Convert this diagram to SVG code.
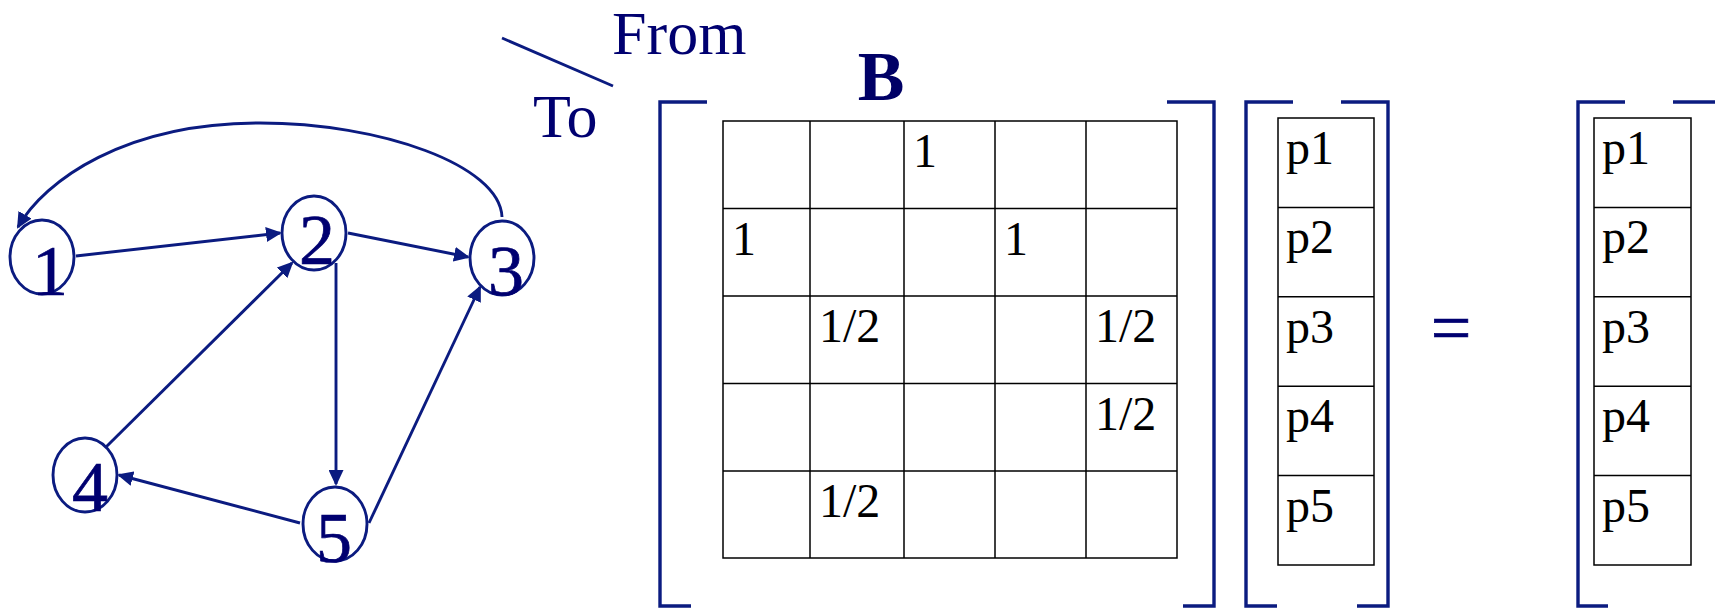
<svg xmlns="http://www.w3.org/2000/svg" width="1715" height="608" viewBox="0 0 1715 608">
<style>
.node{fill:none;stroke:#0b1b80;stroke-width:2.9}
.lbl{font-family:"Liberation Serif","Times New Roman",serif;font-size:72px;fill:#000070;stroke:#000070;stroke-width:0.7;text-anchor:middle}
.edge{fill:none;stroke:#0b1b80;stroke-width:2.9}
.brk{fill:none;stroke:#0b1b80;stroke-width:3.4}
.grid{fill:none;stroke:#000;stroke-width:1.5}
.cell{font-family:"Liberation Serif","Times New Roman",serif;font-size:48px;fill:#000}
.hdr{font-family:"Liberation Serif","Times New Roman",serif;font-size:62px;fill:#000070}
</style>
<defs>
<marker id="arr" markerUnits="userSpaceOnUse" markerWidth="16" markerHeight="15" refX="14" refY="7.5" orient="auto">
<path d="M0,0 L16,7.5 L0,15 z" fill="#0b1b80"/>
</marker>
</defs>
<rect width="1715" height="608" fill="#fff"/>

<g id="connectors">
<line class="edge" x1="76" y1="256" x2="280" y2="233" marker-end="url(#arr)"/>
<line class="edge" x1="348" y1="233" x2="468" y2="257" marker-end="url(#arr)"/>
<line class="edge" x1="336" y1="263" x2="336" y2="484" marker-end="url(#arr)"/>
<line class="edge" x1="106" y1="447" x2="292" y2="263" marker-end="url(#arr)"/>
<line class="edge" x1="300" y1="523" x2="119" y2="475" marker-end="url(#arr)"/>
<line class="edge" x1="369" y1="523" x2="480" y2="287" marker-end="url(#arr)"/>
<path class="edge" d="M502,217 C500,165 380,123 260,123 C125,123 45,180 18,227" marker-end="url(#arr)"/>
</g>

<g id="node1"><ellipse class="node" cx="42" cy="257" rx="32" ry="37"/><text class="lbl" x="50" y="295">1</text></g>
<g id="node2"><ellipse class="node" cx="314" cy="233" rx="32" ry="37"/><text class="lbl" x="317" y="264">2</text></g>
<g id="node3"><ellipse class="node" cx="502" cy="258" rx="32" ry="37"/><text class="lbl" x="506" y="295">3</text></g>
<g id="node4"><ellipse class="node" cx="85" cy="475" rx="32" ry="37"/><text class="lbl" x="90" y="511">4</text></g>
<g id="node5"><ellipse class="node" cx="335" cy="524" rx="32" ry="37"/><text class="lbl" x="334" y="562">5</text></g>

<g id="header">
<line class="edge" x1="502" y1="38" x2="613" y2="86"/>
<text class="hdr" x="612" y="54">From</text>
<text class="hdr" x="533" y="137">To</text>
<text x="881" y="100" text-anchor="middle" style="font-family:'Liberation Serif','Times New Roman',serif;font-size:70px;font-weight:bold;fill:#000066">B</text>
</g>

<g id="matrixB">
<path class="brk" d="M707,102 H660 V606 H691"/>
<path class="brk" d="M1167,102 H1214 V606 H1183"/>
<rect class="grid" x="723" y="121" width="454" height="437"/>
<path class="grid" d="M810,121V558M904,121V558M995,121V558M1086,121V558M723,208.5H1177M723,296H1177M723,383.5H1177M723,471H1177"/>
<text class="cell" x="913" y="167">1</text>
<text class="cell" x="732" y="254.5">1</text>
<text class="cell" x="1004" y="254.5">1</text>
<text class="cell" x="819" y="342">1/2</text>
<text class="cell" x="1095" y="342">1/2</text>
<text class="cell" x="1095" y="429.5">1/2</text>
<text class="cell" x="819" y="517">1/2</text>
</g>

<g id="vectorP">
<path class="brk" d="M1293,102 H1246 V606 H1277"/>
<path class="brk" d="M1341,102 H1388 V606 H1357"/>
<rect class="grid" x="1278" y="118" width="96" height="447"/>
<path class="grid" d="M1278,207.4H1374M1278,296.8H1374M1278,386.2H1374M1278,475.6H1374"/>
<text class="cell" x="1286" y="164">p1</text>
<text class="cell" x="1286" y="253.4">p2</text>
<text class="cell" x="1286" y="342.8">p3</text>
<text class="cell" x="1286" y="432.2">p4</text>
<text class="cell" x="1286" y="521.6">p5</text>
</g>

<g id="equals"><text class="lbl" x="1451" y="352">=</text></g>

<g id="vectorP2">
<path class="brk" d="M1625,102 H1578 V606 H1608"/>
<path class="brk" d="M1673,102 H1722"/>
<rect class="grid" x="1594" y="118" width="97" height="447"/>
<path class="grid" d="M1594,207.4H1691M1594,296.8H1691M1594,386.2H1691M1594,475.6H1691"/>
<text class="cell" x="1602" y="164">p1</text>
<text class="cell" x="1602" y="253.4">p2</text>
<text class="cell" x="1602" y="342.8">p3</text>
<text class="cell" x="1602" y="432.2">p4</text>
<text class="cell" x="1602" y="521.6">p5</text>
</g>
</svg>
